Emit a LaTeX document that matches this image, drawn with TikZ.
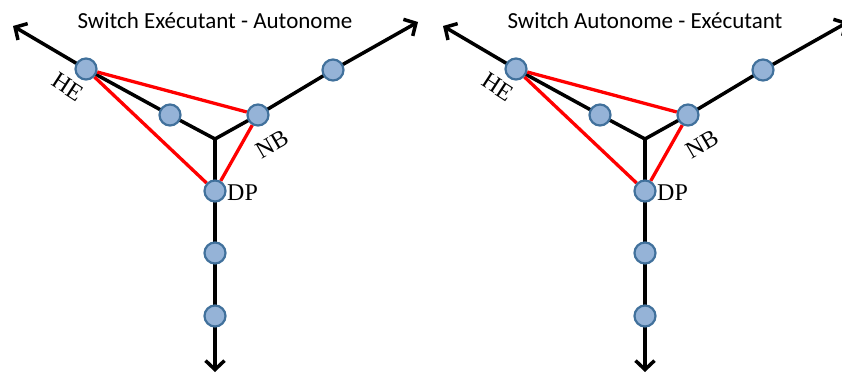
\documentclass[tikz,border=0pt]{standalone}
\usepackage{fontspec}
\setmainfont{Liberation Serif}
\newfontfamily\titlefont{Carlito}
\usetikzlibrary{arrows.meta}
\pgfdeclarelayer{bg}
\pgfsetlayers{bg,main}
\definecolor{nodefill}{HTML}{95B3D7}
\definecolor{nodeborder}{HTML}{41719C}
\definecolor{redline}{HTML}{FF0000}
\tikzset{
  stn/.style={circle, fill=nodefill, draw=nodeborder, line width=2.2pt, minimum size=21pt, inner sep=0pt},
  axis/.style={line width=3.5pt, black, line join=miter},
  barb/.tip={Straight Barb[length=9pt,width=19pt,line width=3.5pt]},
  link/.style={line width=3.3pt, redline},
  lbl/.style={font=\fontsize{24}{26}\selectfont, inner sep=0pt},
  ttl/.style={font=\titlefont\fontsize{23}{26}\selectfont, inner sep=0pt},
}
\newcommand\switchdiag[1]{%
  \node[ttl, anchor=base] (title) at (215,29) {#1};
  \coordinate (J) at (215,139);
  \coordinate (tl) at (13,26);
  \coordinate (tr) at (418,22);
  \coordinate (td) at (215,372);
  \node[stn] (HE) at (86,69) {};
  \node[stn] (L2) at (170,115) {};
  \node[stn] (NB) at (258,115) {};
  \node[stn] (R2) at (333,70) {};
  \node[stn] (DP) at (215,191) {};
  \node[stn] (D2) at (215,253) {};
  \node[stn] (D3) at (215,316) {};
  \node[lbl, rotate=-33] (heL) at (68,87) {HE};
  \node[lbl, rotate=30] (nbL) at (272,144) {NB};
  \node[lbl, anchor=base west] (dpL) at (227,200) {DP};
  \begin{pgfonlayer}{bg}
    \draw[axis, {barb}-{barb}] (tl) -- (HE.center) -- (L2.center) -- (J) -- (NB.center) -- (R2.center) -- (tr);
    \draw[axis, -{barb}] (J) -- (DP.center) -- (D2.center) -- (D3.center) -- (td);
    \draw[link] (HE) -- (NB);
    \draw[link] (HE) -- (DP);
    \draw[link] (NB) -- (DP);
  \end{pgfonlayer}
}
\begin{document}
\begin{tikzpicture}[x=1pt, y=-1pt]
  \useasboundingbox (0,0) rectangle (842,374);
  \clip (0,0) rectangle (842,374);
  \begin{scope}[name prefix=a-]
    \switchdiag{Switch Exécutant - Autonome}
  \end{scope}
  \begin{scope}[xshift=430pt, name prefix=b-]
    \switchdiag{Switch Autonome - Exécutant}
  \end{scope}
\end{tikzpicture}
\end{document}
